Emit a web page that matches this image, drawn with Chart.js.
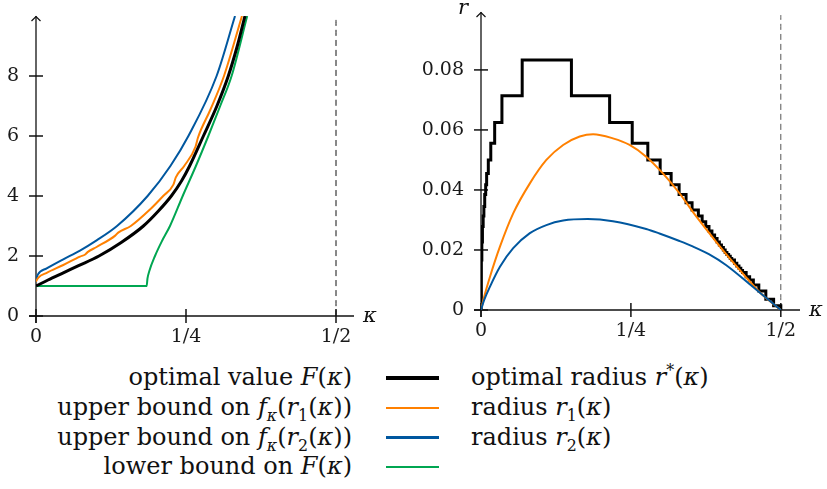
<!DOCTYPE html>
<html><head><meta charset="utf-8">
<script src="https://cdn.jsdelivr.net/npm/chart.js@4.4.1/dist/chart.umd.min.js"></script>
<style>
html,body{margin:0;padding:0;background:#fff;}
#wrap{position:relative;width:827px;height:489px;overflow:hidden;font-family:'DejaVu Serif',serif;color:#111;}
canvas{position:absolute;top:0;}
#cL{left:0}
#cR{left:400px}
.lg{position:absolute;font-size:24px;line-height:30px;height:30px;white-space:nowrap}
.lgL{right:475px;text-align:right}
.lgR{left:471px}
.sw{position:absolute;left:386px;width:53px}
sub,sup{font-size:66%;line-height:0}
</style></head><body>
<div id="wrap">
<canvas id="cL" width="400" height="360"></canvas>
<canvas id="cR" width="427" height="360"></canvas>
<div id="legend"></div>
</div>
<script>
// ---------------- data ----------------
const kappaTicks = [0, 0.25, 0.5];
const kappaTickLabels = ['0', '1/4', '1/2'];
const asymptote = 0.5;

// left chart: values
const leftYTicks = [0, 2, 4, 6, 8];
const kappaF = [0, 0.02, 0.0455, 0.07, 0.105, 0.142, 0.179, 0.204, 0.2255, 0.2425, 0.256, 0.279, 0.3015, 0.3205, 0.3355, 0.3483];
const valueF = [1, 1.2, 1.44, 1.67, 2.0, 2.45, 3.0, 3.5, 4.0, 4.5, 5.0, 6.0, 7.0, 8.0, 9.0, 10.0];

const kappaUpper1 = [0, 0.004, 0.0178, 0.0455, 0.0733, 0.082, 0.086, 0.101, 0.132, 0.137, 0.158, 0.19, 0.212, 0.229, 0.233, 0.247, 0.266, 0.27, 0.29, 0.3133, 0.3433];
const valueUpper1 = [1.15, 1.28, 1.44, 1.7, 1.98, 2.05, 2.13, 2.3, 2.68, 2.78, 3.0, 3.55, 4.0, 4.38, 4.62, 5.0, 5.65, 5.95, 6.85, 8.0, 10.0];

const kappaUpper2 = [0, 0.003, 0.0178, 0.0455, 0.0733, 0.101, 0.135, 0.186, 0.224, 0.254, 0.301, 0.3317];
const valueUpper2 = [1.2, 1.38, 1.59, 1.89, 2.18, 2.52, 3.0, 4.0, 5.0, 6.0, 8.0, 10.0];

const kappaLower = [0, 0.1844, 0.1858, 0.1889, 0.1983, 0.21, 0.2233, 0.2445, 0.2665, 0.2872, 0.307, 0.326, 0.352];
const valueLower = [1, 1, 1.25, 1.5, 2.0, 2.5, 3.0, 4.0, 5.0, 6.0, 7.0, 8.0, 10.0];

// right chart: radii
const rightYTicks = [0, 0.02, 0.04, 0.06, 0.08];
const kappaRstar = [0, 0.0006, 0.0014, 0.0024, 0.0036, 0.0048, 0.0062, 0.0078, 0.0094, 0.0122, 0.0163, 0.0228, 0.0349, 0.0687, 0.1508, 0.2145, 0.2522, 0.2782, 0.2988, 0.3171, 0.3304, 0.342, 0.352, 0.3625, 0.3688, 0.3748, 0.3802, 0.3851, 0.3896, 0.3937, 0.3975, 0.401, 0.4042, 0.4072, 0.4101, 0.413, 0.4157, 0.4182, 0.4227, 0.4266, 0.4302, 0.4333, 0.4362, 0.4422, 0.448, 0.4542, 0.4633, 0.475, 0.488, 0.5];
const valueRstar = [0, 0.0167, 0.0227, 0.0278, 0.0313, 0.0345, 0.0385, 0.0417, 0.0455, 0.05, 0.0556, 0.0625, 0.0714, 0.0833, 0.0714, 0.0625, 0.0556, 0.05, 0.0455, 0.0417, 0.0385, 0.0357, 0.0333, 0.0313, 0.0294, 0.0278, 0.0263, 0.025, 0.0238, 0.0227, 0.0217, 0.0208, 0.02, 0.0192, 0.0185, 0.0179, 0.0172, 0.0167, 0.0156, 0.0147, 0.0139, 0.0132, 0.0125, 0.0111, 0.01, 0.0083, 0.0063, 0.0036, 0.0014, 0];

const kappaR1 = [0, 0.005, 0.015, 0.0316, 0.0537, 0.0815, 0.109, 0.137, 0.1646, 0.187, 0.22, 0.2478, 0.2755, 0.303, 0.331, 0.353, 0.38, 0.4085, 0.44, 0.4639, 0.485, 0.5];
const valueR1 = [0, 0.0042, 0.0111, 0.0211, 0.0322, 0.0422, 0.05, 0.055, 0.0578, 0.0586, 0.0572, 0.055, 0.0511, 0.0456, 0.0389, 0.0328, 0.0258, 0.0187, 0.0114, 0.0061, 0.0024, 0];

const kappaR2 = [0, 0.005, 0.015, 0.0316, 0.0537, 0.0815, 0.109, 0.137, 0.178, 0.22, 0.2755, 0.2976, 0.331, 0.353, 0.38, 0.4085, 0.4528, 0.48, 0.5];
const valueR2 = [0, 0.0032, 0.0078, 0.0144, 0.0206, 0.0256, 0.0283, 0.0298, 0.0303, 0.0296, 0.027, 0.0255, 0.023, 0.0212, 0.0186, 0.015, 0.0078, 0.0033, 0];

// legend
const legendLeft = ['optimal value <i>F</i>(<i>κ</i>)', 'upper bound on <i>f</i><sub><i>κ</i></sub>(<i>r</i><sub>1</sub>(<i>κ</i>))', 'upper bound on <i>f</i><sub><i>κ</i></sub>(<i>r</i><sub>2</sub>(<i>κ</i>))', 'lower bound on <i>F</i>(<i>κ</i>)'];
const legendRight = ['optimal radius <i>r</i><sup>*</sup>(<i>κ</i>)', 'radius <i>r</i><sub>1</sub>(<i>κ</i>)', 'radius <i>r</i><sub>2</sub>(<i>κ</i>)', ''];

// ---------------- style ----------------
const C_BLACK = '#000000', C_ORANGE = '#ff8000', C_BLUE = '#00579f', C_GREEN = '#00a651';
const legendColors = [C_BLACK, C_ORANGE, C_BLUE, C_GREEN];
const legendWidths = [3.4, 2.6, 2.6, 2.6];

Chart.defaults.font.family = "'DejaVu Serif', serif";
Chart.defaults.color = '#1a1a1a';

const pts = (xs, ys) => xs.map((x, i) => ({x: x, y: ys[i]}));

const axesDeco = {
  id: 'axesDeco',
  beforeDatasetsDraw(chart, args, o) {
    const {ctx, chartArea: a, scales: {x, y}} = chart;
    const x0 = x.getPixelForValue(0), y0 = y.getPixelForValue(0);
    ctx.save();
    ctx.strokeStyle = '#111';
    ctx.lineWidth = 1.3;
    ctx.lineCap = 'butt';
    ctx.beginPath(); ctx.moveTo(x0 - 7, y0); ctx.lineTo(a.right, y0); ctx.stroke();
    ctx.beginPath(); ctx.moveTo(x0, y0 + 7); ctx.lineTo(x0, a.top); ctx.stroke();
    ctx.lineWidth = 1.2;
    ctx.beginPath(); ctx.moveTo(x0 - 4.5, a.top + 5); ctx.lineTo(x0, a.top + 0.5); ctx.lineTo(x0 + 4.5, a.top + 5); ctx.stroke();
    ctx.lineWidth = 1.5;
    x.ticks.forEach((t, i) => {
      const px = x.getPixelForTick(i);
      ctx.beginPath(); ctx.moveTo(px, y0 - 7); ctx.lineTo(px, y0 + 7); ctx.stroke();
    });
    y.ticks.forEach((t, i) => {
      const py = y.getPixelForTick(i);
      ctx.beginPath(); ctx.moveTo(x0 - 7, py); ctx.lineTo(x0 + 7, py); ctx.stroke();
    });
    ctx.fillStyle = '#111';
    ctx.font = "italic 21px 'DejaVu Serif'";
    ctx.textAlign = 'center';
    ctx.textBaseline = 'alphabetic';
    ctx.fillText('κ', a.right + 16, y0 + 6);
    if (o.yName) ctx.fillText(o.yName, x0 - 18, a.top + 2);
    ctx.restore();
  }
};

function makeChart(id, cfg, datasets) {
  return new Chart(document.getElementById(id), {
    type: 'line',
    data: {datasets: datasets},
    plugins: [axesDeco],
    options: {
      responsive: false, animation: false, events: [],
      layout: {padding: {left: 0, top: cfg.top, right: cfg.right, bottom: 0}},
      plugins: {legend: {display: false}, tooltip: {enabled: false}, axesDeco: {yName: cfg.yName}},
      elements: {point: {radius: 0}, line: {fill: false}},
      scales: {
        x: {
          type: 'linear', min: 0, max: cfg.xMax,
          grid: {display: false, drawTicks: false}, border: {display: false},
          afterBuildTicks: s => { s.ticks = kappaTicks.map(v => ({value: v})); },
          afterFit: s => { s.height = cfg.xH; s.paddingLeft = 0; s.paddingRight = 0; },
          ticks: {padding: 10, font: {size: 19}, maxRotation: 0, autoSkip: false,
                  callback: (v, i) => kappaTickLabels[i]}
        },
        y: {
          type: 'linear', min: 0, max: cfg.yMax,
          grid: {display: false, drawTicks: false}, border: {display: false},
          afterBuildTicks: s => { s.ticks = cfg.yTicks.map(v => ({value: v})); },
          afterFit: s => { s.width = cfg.yW; s.paddingTop = 0; s.paddingBottom = 0; },
          ticks: {padding: 17, font: {size: 19}, autoSkip: false,
                  callback: (v) => cfg.fmt(v)}
        }
      }
    }
  });
}

const lineDs = (data, color, width, order, extra) => Object.assign({
  data: data, borderColor: color, borderWidth: width, order: order,
  cubicInterpolationMode: 'monotone', pointRadius: 0
}, extra || {});

makeChart('cL', {top: 16, right: 46, xH: 44, yW: 36, xMax: 0.53, yMax: 10, yTicks: leftYTicks,
                 fmt: v => String(v), yName: ''}, [
  lineDs(pts(kappaF, valueF), C_BLACK, 3, 0),
  lineDs(pts(kappaUpper1, valueUpper1), C_ORANGE, 2, 1),
  lineDs(pts(kappaUpper2, valueUpper2), C_BLUE, 2, 2),
  lineDs(pts(kappaLower, valueLower), C_GREEN, 2, 3),
  lineDs([{x: asymptote, y: 0}, {x: asymptote, y: 9.87}], '#111', 1, 4, {borderDash: [6, 4]})
]);

makeChart('cR', {top: 12, right: 27, xH: 50, yW: 81, xMax: 0.532, yMax: 0.0993, yTicks: rightYTicks,
                 fmt: v => (v === 0 ? '0' : v.toFixed(2)), yName: 'r'}, [
  lineDs(pts(kappaR2, valueR2), C_BLUE, 2, 0),
  lineDs(pts(kappaR1, valueR1), C_ORANGE, 2, 1),
  lineDs(pts(kappaRstar, valueRstar), C_BLACK, 3, 2, {stepped: 'before', cubicInterpolationMode: 'default'}),
  lineDs([{x: asymptote, y: 0}, {x: asymptote, y: 0.0983}], '#555', 1, 3, {borderDash: [6, 4]})
]);

// legend
const lg = document.getElementById('legend');
const rowTops = [362, 392, 421.5, 451];
legendLeft.forEach((txt, i) => {
  const top = rowTops[i];
  const l = document.createElement('div'); l.className = 'lg lgL'; l.style.top = top + 'px'; l.innerHTML = txt; lg.appendChild(l);
  const s = document.createElement('div'); s.className = 'sw';
  s.style.top = (top + 16 - legendWidths[i] / 2) + 'px'; s.style.height = legendWidths[i] + 'px';
  s.style.background = legendColors[i]; lg.appendChild(s);
  if (legendRight[i]) {
    const r = document.createElement('div'); r.className = 'lg lgR'; r.style.top = top + 'px'; r.innerHTML = legendRight[i]; lg.appendChild(r);
  }
});
</script>
</body></html>
